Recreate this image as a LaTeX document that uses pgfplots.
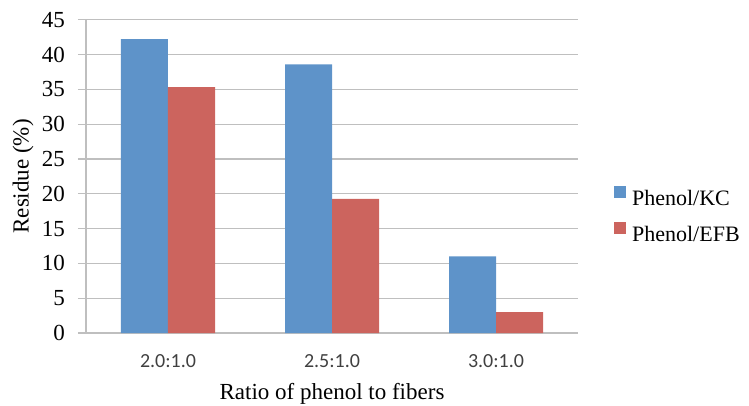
\documentclass[border=0pt]{standalone}
\usepackage{pgfplots}
\pgfplotsset{compat=1.18}
\usepackage{fontspec}
\setmainfont{Liberation Serif}
\newfontfamily\carlito{Carlito}
\definecolor{barblue}{HTML}{5E93C9}
\definecolor{barred}{HTML}{CC645E}
\definecolor{gridgray}{HTML}{BFBFBF}
\definecolor{ticktext}{HTML}{404040}
\begin{document}
\begin{tikzpicture}
\path[use as bounding box] (-86pt,-72pt) rectangle (663pt,333pt);
\begin{axis}[
  at={(0pt,0pt)}, anchor=south west,
  scale only axis, width=492pt, height=313.3pt,
  ymin=0, ymax=45, ytick={0,5,10,15,20,25,30,35,40,45},
  yticklabels={0,5,10,15,20,25,30,35,40,45},
  xmin=-0.5, xmax=2.5, xtick={0,1,2},
  xticklabels={2.0:1.0,2.5:1.0,3.0:1.0},
  ybar=0pt, bar width=47pt,
  axis lines*=left,
  axis line style={gridgray, line width=1.2pt},
  ymajorgrids, major grid style={gridgray, line width=1.2pt},
  ytick style={gridgray, line width=1.2pt},
  xtick style={draw=none},
  major tick length=8pt, tick align=outside,
  yticklabel style={font=\rmfamily\fontsize{23}{27}\selectfont, anchor=east, inner sep=0pt, xshift=-13pt},
  xticklabel style={font=\carlito\fontsize{20}{24}\selectfont, text=ticktext, anchor=center, yshift=-20pt},
  xlabel={Ratio of phenol to fibers},
  ylabel={Residue (\%)},
  label style={font=\rmfamily\fontsize{23}{27}\selectfont},
  xlabel style={at={(axis description cs:0.5,0)}, anchor=center, yshift=-61pt},
  ylabel style={at={(axis description cs:0,0.5)}, anchor=center, yshift=63pt},
  legend style={at={(axis description cs:1.073,0.375)}, anchor=west, draw=none, fill=none,
    font=\rmfamily\fontsize{22}{26}\selectfont, row sep=13pt, inner sep=0pt},
  legend cell align=left,
  legend image code/.code={\path (0pt,0pt) (16pt,0pt); \fill[#1] (0pt,1pt) rectangle (12pt,13pt);},
]
\addplot[fill=barblue, draw=none] coordinates {(0,42.2) (1,38.6) (2,11.0)};
\addplot[fill=barred, draw=none] coordinates {(0,35.3) (1,19.25) (2,3.0)};
\legend{Phenol/KC, Phenol/EFB}
\end{axis}
\end{tikzpicture}
\end{document}
